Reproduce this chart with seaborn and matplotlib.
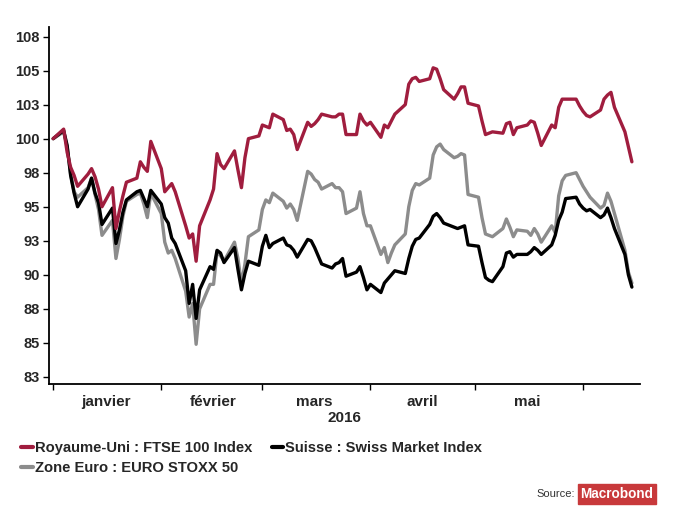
import matplotlib
matplotlib.use('Agg')
import matplotlib.pyplot as plt
import matplotlib.dates as mdates
from matplotlib.lines import Line2D
import pandas as pd
import seaborn as sns

# données : indices rebasés (1er janvier 2016 = 100), jours ouvrés
dates = pd.bdate_range('2016-01-01', '2016-06-15')

ftse = [
    100.0, 100.7, 99.0, 97.9, 97.3, 96.5, 97.4, 97.8, 97.2, 96.3, 95.0, 96.4, 93.4, 94.7, 95.8, 96.8, 97.1, 98.3, 97.9, 97.6, 99.8,  # janvier
    97.8, 96.1, 96.4, 96.7, 96.1, 93.6, 92.7, 93.0, 91.0, 93.6, 95.5, 96.3, 98.9, 98.1, 97.8, 99.1, 97.7, 96.4, 98.6, 100.0, 100.2,  # février
    101.0, 100.9, 100.8, 101.8, 101.4, 100.6, 100.7, 100.3, 99.2, 101.2, 100.9, 101.1, 101.4, 101.8, 101.6, 101.6, 101.8, 101.8, 100.3, 100.3, 101.8, 101.3, 101.0,  # mars
    101.2, 100.1, 101.0, 100.8, 101.3, 101.8, 102.5, 104.0, 104.4, 104.5, 104.2, 104.4, 105.2, 105.1, 104.4, 103.6, 102.9, 103.3, 103.8, 103.8, 102.6,  # avril
    102.4, 101.3, 100.3, 100.4, 100.5, 100.4, 101.1, 101.2, 100.3, 100.8, 101.0, 101.3, 101.2, 100.4, 99.5, 101.0, 100.8, 102.3, 102.9, 102.9, 102.9, 102.4,  # mai
    102.0, 101.7, 101.6, 102.1, 102.9, 103.2, 103.4, 102.3, 100.5, 99.4, 98.3,  # juin
]
smi = [
    100.0, 100.6, 99.5, 97.3, 96.0, 95.0, 96.3, 97.1, 96.0, 95.3, 93.7, 94.9, 92.3, 93.3, 94.6, 95.5, 96.1, 96.2, 95.6, 95.0, 96.2,
    95.2, 94.2, 93.8, 92.7, 92.3, 90.3, 87.9, 89.3, 86.8, 88.9, 90.6, 90.4, 91.8, 91.6, 90.9, 92.0, 90.4, 88.9, 90.1, 91.0, 90.7,
    92.1, 92.9, 92.0, 92.3, 92.7, 92.2, 92.1, 91.8, 91.3, 92.6, 92.5, 92.0, 91.4, 90.8, 90.5, 90.8, 90.9, 91.2, 89.9, 90.2, 90.6, 89.8, 88.9,
    89.3, 88.7, 89.4, 89.7, 90.0, 90.3, 90.1, 91.2, 92.1, 92.6, 92.7, 93.7, 94.3, 94.5, 94.2, 93.8, 93.5, 93.4, 93.5, 93.6, 92.2,
    92.1, 90.9, 89.8, 89.6, 89.5, 90.6, 91.6, 91.7, 91.3, 91.5, 91.5, 91.7, 92.0, 91.8, 91.5, 92.2, 92.9, 94.0, 94.6, 95.6, 95.7, 95.2,
    94.9, 94.7, 94.8, 94.2, 94.4, 94.9, 94.2, 93.4, 91.5, 90.0, 89.1,
]
stoxx = [
    100.0, 100.5, 99.4, 97.4, 96.1, 95.7, 96.4, 97.1, 95.9, 94.8, 92.9, 94.0, 91.2, 92.6, 94.3, 95.4, 95.9, 96.0, 95.2, 94.2, 96.0,
    94.5, 92.4, 91.6, 91.8, 91.2, 88.8, 86.9, 87.9, 84.9, 87.5, 89.3, 89.3, 91.7, 91.4, 91.0, 92.4, 91.2, 89.3, 90.8, 92.8, 93.3,
    94.8, 95.5, 95.3, 96.0, 95.4, 94.9, 95.2, 94.8, 94.0, 97.6, 97.4, 97.0, 96.8, 96.3, 96.7, 96.4, 96.4, 96.1, 94.5, 94.9, 96.1, 94.5, 93.6,
    93.6, 91.5, 92.0, 90.9, 91.6, 92.2, 93.0, 95.0, 96.2, 96.7, 96.6, 97.1, 98.8, 99.4, 99.6, 99.2, 98.6, 98.7, 98.9, 98.8, 95.9,
    95.7, 94.2, 93.0, 92.9, 92.8, 93.4, 94.1, 93.5, 92.8, 93.3, 93.2, 92.9, 93.4, 93.0, 92.4, 93.6, 93.1, 95.8, 96.9, 97.3, 97.5, 97.0,
    96.5, 96.1, 95.7, 94.9, 95.1, 96.0, 95.4, 94.5, 91.8, 90.2, 89.4,
]

labels = ['Royaume-Uni : FTSE 100 Index', 'Suisse : Swiss Market Index', 'Zone Euro : EURO STOXX 50']
colors = ['#a01d3e', '#000000', '#8c8c8c']

yticks = [82.5, 85, 87.5, 90, 92.5, 95, 97.5, 100, 102.5, 105, 107.5]
yticklabels = ['83', '85', '88', '90', '93', '95', '98', '100', '103', '105', '108']
months = ['janvier', 'février', 'mars', 'avril', 'mai']

sns.set_style('white')
plt.rcParams['font.family'] = ['Liberation Sans', 'DejaVu Sans']
plt.rcParams['font.weight'] = 'bold'

fig = plt.figure(figsize=(6.73, 5.09), dpi=100)
ax = fig.add_axes([0.073, 0.246, 0.878, 0.701])

# gris, puis noir, puis rouge au-dessus
for vals, col in [(stoxx, colors[2]), (smi, colors[1]), (ftse, colors[0])]:
    sns.lineplot(x=dates, y=vals, color=col, lw=2.4, ax=ax)

ax.set_xlim(pd.Timestamp('2015-12-30 20:00'), pd.Timestamp('2016-06-17 08:00'))
ax.set_ylim(82.0, 108.2)
ax.set_yticks(yticks)
ax.set_yticklabels(yticklabels)
ax.set_xlabel('')
ax.set_ylabel('')

# traits aux débuts de mois, noms au milieu
ax.xaxis.set_major_locator(mdates.MonthLocator())
ax.xaxis.set_major_formatter(plt.NullFormatter())
mid = [pd.Timestamp(f'2016-{m:02d}-16') for m in range(1, 6)]
ax.set_xticks(mid, minor=True)
ax.set_xticklabels(months, minor=True)
ax.tick_params(axis='x', which='major', length=4, width=1, direction='out', color='black')
ax.tick_params(axis='x', which='minor', length=0, pad=8, labelsize=11)
ax.tick_params(axis='y', length=4, width=1, direction='out', pad=3, labelsize=10.5, color='black')
ax.tick_params(bottom=True, left=True)

for s in ['top', 'right']:
    ax.spines[s].set_visible(False)
for s in ['left', 'bottom']:
    ax.spines[s].set_color('black')
    ax.spines[s].set_linewidth(1.3)

fig.text(344.5 / 673, 1 - 418 / 509, '2016', ha='center', va='center', fontsize=11, fontweight='bold')

handles = [Line2D([], [], color=c, lw=3) for c in colors]
order = [0, 2, 1]
fig.legend([handles[i] for i in order], [labels[i] for i in order], ncol=2,
           loc='upper left', bbox_to_anchor=(21 / 673, 1 - 441 / 509), frameon=False,
           fontsize=10.6, handlelength=0.8, handletextpad=0.15, columnspacing=1.3,
           labelspacing=0.4, borderaxespad=0, borderpad=0)

fig.text(575 / 673, 1 - 494 / 509, 'Source:', ha='right', va='center', fontsize=8,
         fontweight='normal', color='#333333')
fig.text(617 / 673, 1 - 494 / 509, 'Macrobond', ha='center', va='center', fontsize=9.8,
         fontweight='bold', color='white', family=['Liberation Sans Narrow', 'Liberation Sans'],
         bbox=dict(boxstyle='square,pad=0.2', facecolor='#c8393b', edgecolor='#c8393b'))

fig.savefig('out.png', dpi=100)
